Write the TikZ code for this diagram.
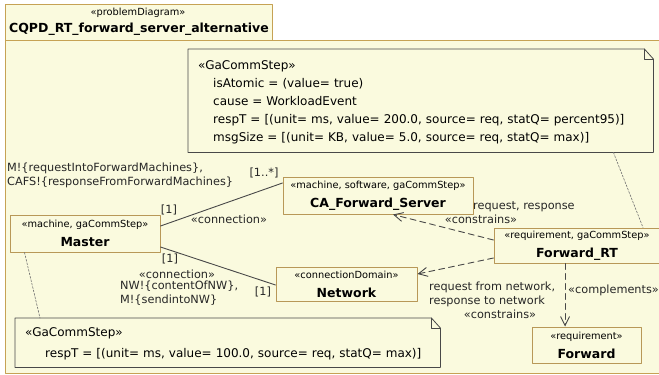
\documentclass[tikz,border=0pt]{standalone}
\usepackage{fontspec}
\setmainfont{DejaVu Sans}
\usetikzlibrary{arrows.meta}
\definecolor{diagbg}{RGB}{250,250,222}
\definecolor{framecol}{RGB}{198,162,84}
\definecolor{boxcol}{RGB}{184,152,88}
\definecolor{linecol}{RGB}{72,72,72}
\newcommand{\stereo}[1]{{\fontsize{9.8}{19}\selectfont «#1»}}
\newcommand{\umlname}[1]{{\fontsize{12.5}{19}\selectfont\bfseries #1}}
\tikzset{
  umlbox/.style={draw=boxcol,fill=diagbg,line width=1pt,align=center,inner sep=0pt,font=\fontsize{9.8}{19}\selectfont},
  notetext/.style={align=left,inner xsep=10pt,inner ysep=0pt,font=\fontsize{12}{18.2}\selectfont},
  notedraw/.style={draw=linecol,fill=diagbg,line width=0.8pt},
  lbl/.style={inner sep=0pt,text=black!85,font=\fontsize{11.3}{14}\selectfont},
  conn/.style={draw=linecol,line width=0.9pt},
  dep/.style={draw=linecol,line width=0.9pt,dash pattern=on 6pt off 4pt,-{Straight Barb[length=9pt,width=9pt,line width=0.9pt]}},
  anchorline/.style={draw=linecol!80,line width=0.6pt,dash pattern=on 2pt off 1.5pt}
}
\begin{document}
\begin{tikzpicture}[line cap=round,line join=round,x=1pt,y=-1pt]
\useasboundingbox[fill=white] (0,0) rectangle (659,375);
\draw[draw=framecol,fill=diagbg,line width=1pt] (5,40) rectangle (700,373);
\draw[draw=framecol,fill=diagbg,line width=1pt] (5,4) rectangle (272,40);
\node[inner sep=0pt,font=\fontsize{9.8}{11}\selectfont] (frametag) at (138,13) {«problemDiagram»};
\node[inner sep=0pt,font=\fontsize{12.5}{13}\selectfont\bfseries] (frametitle) at (139,29) {CQPD\_RT\_forward\_server\_alternative};

\node[notetext,text width=445pt,minimum height=103pt,anchor=north west] (topnote) at (188,49) {};
\draw[notedraw] (topnote.north west) -- ([xshift=-9pt]topnote.north east) -- ([yshift=-10pt]topnote.north east) -- (topnote.south east) -- (topnote.south west) -- cycle;
\draw[notedraw,fill=none] ([xshift=-9pt]topnote.north east) -- ([xshift=-9pt,yshift=-10pt]topnote.north east) -- ([yshift=-10pt]topnote.north east);
\node[notetext,text width=445pt,minimum height=106pt,anchor=north west] at (188,49) {«GaCommStep»\\
\hspace*{15pt}isAtomic = (value= true)\\
\hspace*{15pt}cause = WorkloadEvent\\
\hspace*{15pt}respT = [(unit= ms, value= 200.0, source= req, statQ= percent95)]\\
\hspace*{15pt}msgSize = [(unit= KB, value= 5.0, source= req, statQ= max)]};

\node[notetext,text width=405pt,minimum height=49pt,anchor=north west] (botnote) at (15,318) {};
\draw[notedraw] (botnote.north west) -- ([xshift=-9pt]botnote.north east) -- ([yshift=-10pt]botnote.north east) -- (botnote.south east) -- (botnote.south west) -- cycle;
\draw[notedraw,fill=none] ([xshift=-9pt]botnote.north east) -- ([xshift=-9pt,yshift=-10pt]botnote.north east) -- ([yshift=-10pt]botnote.north east);
\node[notetext,text width=405pt,minimum height=51pt,anchor=north west] at (15,318) {«GaCommStep»\\[3.5pt]
\hspace*{20pt}respT = [(unit= ms, value= 100.0, source= req, statQ= max)]};

\node[umlbox,minimum width=150pt,minimum height=37pt] (master) at (85,233.5) {\stereo{machine, gaCommStep}\\\umlname{Master}};
\node[umlbox,minimum width=190pt,minimum height=37pt] (cafs) at (378,195.5) {\stereo{machine, software, gaCommStep}\\\umlname{CA\_Forward\_Server}};
\node[umlbox,minimum width=166pt,minimum height=35pt] (frt) at (577,245.5) {\stereo{requirement, gaCommStep}\\\umlname{Forward\_RT}};
\node[umlbox,minimum width=141pt,minimum height=34pt] (network) at (346.5,284) {\stereo{connectionDomain}\\\umlname{Network}};
\node[umlbox,minimum width=109pt,minimum height=36pt] (forward) at (586.5,345) {\stereo{requirement}\\\umlname{Forward}};

\draw[conn] ([yshift=7.5pt]master.east) -- ([yshift=12.5pt]cafs.west);
\draw[conn] ([yshift=-13.5pt]master.east) -- ([yshift=-1pt]network.west);
\draw[dep] ([yshift=5.5pt]frt.west) -- ([xshift=15pt]cafs.south);
\draw[dep] ([yshift=-12.5pt]frt.west) -- ([yshift=10pt]network.east);
\draw[dep] ([xshift=-12pt]frt.south) -- ([xshift=-12pt]frt.south |- forward.north);
\draw[anchorline] ([xshift=-40pt]topnote.south east) -- ([xshift=66pt]frt.north);
\draw[anchorline] ([xshift=15pt]master.south west) -- ([xshift=25pt]botnote.north west);

\node[lbl,align=left,anchor=west] (lblmsgs) at (7,175) {M!\{requestIntoForwardMachines\},\\CAFS!\{responseFromForwardMachines\}};
\node[lbl] (lblmany) at (264,173) {[1..*]};
\node[lbl] (lblone) at (169,210) {[1]};
\node[lbl] (lblconn) at (229,219) {«connection»};
\node[lbl] (lbltwo) at (170,259) {[1]};
\node[lbl] (lblconnb) at (177,274) {«connection»};
\node[lbl,align=left,anchor=west] (lblnw) at (120,293.5) {NW!\{contentOfNW\},\\M!\{sendintoNW\}};
\node[lbl] (lblthree) at (263,292) {[1]};
\node[lbl,anchor=west] (lblreq) at (473,207) {request, response};
\node[lbl] (lblcons) at (481,219) {«constrains»};
\node[lbl,align=left,anchor=west] (lblnet) at (429,294) {request from network,\\response to network};
\node[lbl] (lblconsb) at (500,314) {«constrains»};
\node[lbl,anchor=west] (lblcomp) at (568,290) {«complements»};
\end{tikzpicture}
\end{document}
